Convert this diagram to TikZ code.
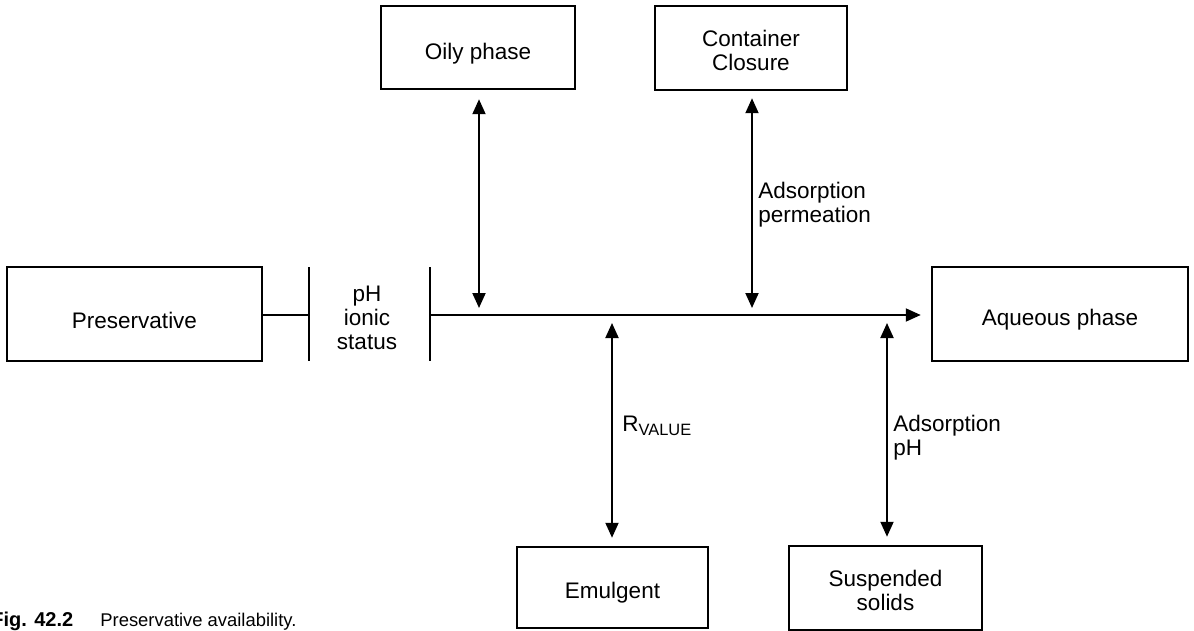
\documentclass[tikz,border=0pt]{standalone}
\usepackage{fontspec}
\setmainfont{Liberation Sans}
\usetikzlibrary{arrows.meta}
\tikzset{
  box/.style={draw, line width=1.25pt, inner sep=0pt},
  btxt/.style={inner sep=0pt, align=center, font=\fontsize{11.25}{12}\selectfont},
  lbl/.style={inner sep=0pt, align=left, font=\fontsize{11.25}{12}\selectfont},
  conn/.style={line width=1pt},
  bar/.style={line width=1.25pt},
  dbl/.style={line width=1pt,
    {Triangle[length=7.5pt,width=6.5pt]}-{Triangle[length=7.5pt,width=6.5pt]}},
  sgl/.style={line width=1pt, -{Triangle[length=7.5pt,width=6.5pt]}},
  capbold/.style={inner sep=0pt, font=\fontsize{10}{11}\selectfont\bfseries},
  capreg/.style={inner sep=0pt, font=\fontsize{9.2}{11}\selectfont},
}
\begin{document}
\begin{tikzpicture}[x=0.5pt,y=-0.5pt]
\useasboundingbox (0,0) rectangle (1194,631);

% boxes
\node[box, minimum width=127.5pt, minimum height=47pt] (pres) at (134.5,314) {};
\node[btxt] (prest) at ([yshift=-3pt]pres.center) {Preservative};
\node[box, minimum width=97pt, minimum height=41.5pt] (oily) at (478,47.5) {};
\node[btxt] (oilyt) at ([yshift=-3pt]oily.center) {Oily phase};
\node[box, minimum width=96pt, minimum height=42pt] (cont) at (751,48) {};
\node[btxt] (contt) at ([yshift=-1pt]cont.center) {Container\\Closure};
\node[box, minimum width=128pt, minimum height=47pt] (aq) at (1060,314) {};
\node[btxt] (aqt) at ([yshift=-3pt]aq.center) {Aqueous phase};
\node[box, minimum width=95.5pt, minimum height=40.5pt] (emul) at (612.5,587.5) {};
\node[btxt] (emult) at ([yshift=-2.5pt]emul.center) {Emulgent};
\node[box, minimum width=96.5pt, minimum height=42pt] (susp) at (885.5,588) {};
\node[btxt] (suspt) at ([yshift=-1pt]susp.center) {Suspended\\solids};

% bars
\coordinate (b1) at (309,315);
\coordinate (b2) at (430,315);
\coordinate (b1t) at (309,267);
\coordinate (b1b) at (309,361);
\coordinate (b2t) at (430,267);
\coordinate (b2b) at (430,361);
\draw[bar] (b1t) -- (b1b);
\draw[bar] (b2t) -- (b2b);
\draw[conn] (pres.east |- b1) -- (b1);
\node[lbl, align=center] (ph) at (367,318) {pH\\ionic\\status};

% main line
\draw[sgl, shorten >=5pt] (b2) -- (aq.west |- b2);

% points on main line
\coordinate (m1) at (479,315);
\coordinate (m2) at (752,315);
\coordinate (m3) at (612,315);
\coordinate (m4) at (887,315);

% vertical arrows
\draw[dbl, shorten <=4.5pt, shorten >=3.5pt] (oily.south -| m1) -- (m1);
\draw[dbl, shorten <=3.5pt, shorten >=3.5pt] (cont.south -| m2) -- (m2);
\draw[dbl, shorten <=4pt, shorten >=4pt] (m3) -- (emul.north -| m3);
\draw[dbl, shorten <=4pt, shorten >=4pt] (m4) -- (susp.north -| m4);

% labels
\node[lbl, anchor=west] (adp) at (758,205) {Adsorption\\permeation};
\node[lbl, anchor=base west] (rv) at (622,431) {R\raisebox{-2pt}{\fontsize{8.2}{8.2}\selectfont VALUE}};
\node[lbl, anchor=west] (adph) at (893,438) {Adsorption\\pH};

% caption
\node[capbold, anchor=base west] (cap1) at (-9,626) {Fig. 42.2};
\node[capreg, anchor=base west] (cap2) at (100,626) {Preservative availability.};
\end{tikzpicture}
\end{document}
